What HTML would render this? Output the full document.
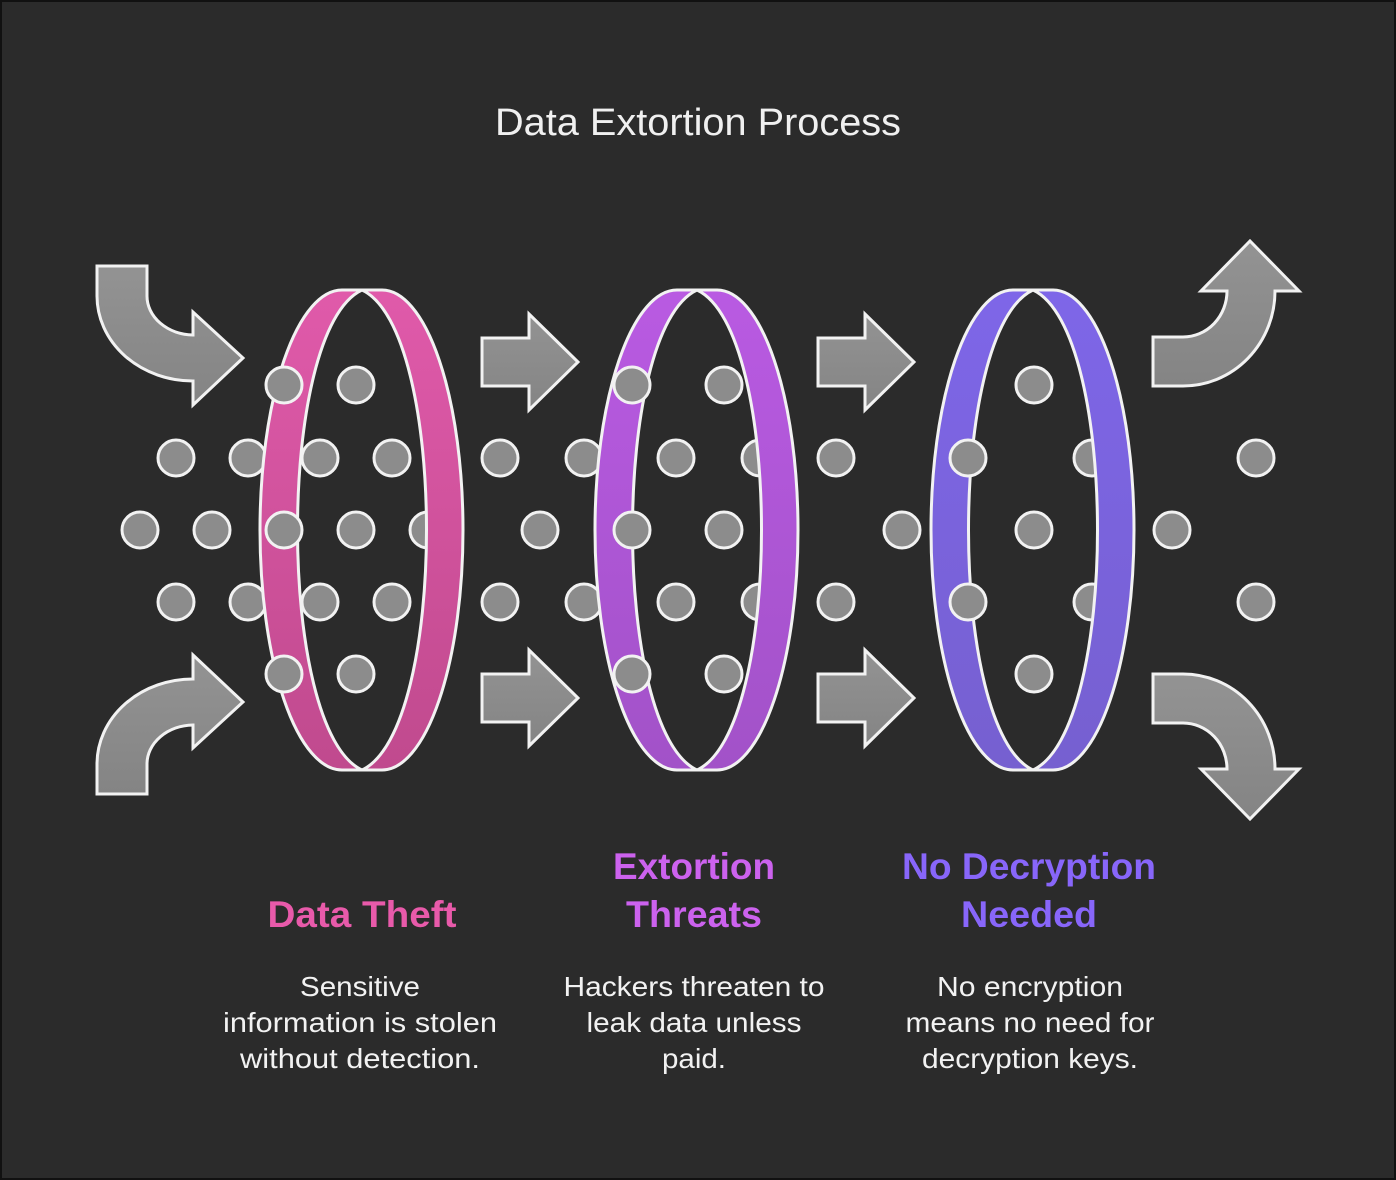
<!DOCTYPE html>
<html><head><meta charset="utf-8"><style>
html,body{margin:0;padding:0;background:#2b2b2b;}
svg{display:block}
</style></head><body>
<svg width="1396" height="1180" viewBox="0 0 1396 1180" xmlns="http://www.w3.org/2000/svg" font-family="Liberation Sans, sans-serif">
<defs>
<linearGradient id="g1" x1="0" y1="0" x2="0" y2="1"><stop offset="0" stop-color="#e05aaa"/><stop offset="1" stop-color="#c04a8e"/></linearGradient>
<linearGradient id="g2" x1="0" y1="0" x2="0" y2="1"><stop offset="0" stop-color="#b95ae2"/><stop offset="1" stop-color="#a252c8"/></linearGradient>
<linearGradient id="g3" x1="0" y1="0" x2="0" y2="1"><stop offset="0" stop-color="#7e66e8"/><stop offset="1" stop-color="#7660d0"/></linearGradient>
<linearGradient id="ga" x1="0" y1="0" x2="0" y2="1"><stop offset="0" stop-color="#939393"/><stop offset="1" stop-color="#848484"/></linearGradient>
</defs>
<rect x="1" y="1" width="1394" height="1178" fill="#2b2b2b" stroke="#111" stroke-width="2"/>
<text x="698" y="135" text-anchor="middle" font-size="38" fill="#f0f0f0" textLength="406" lengthAdjust="spacingAndGlyphs">Data Extortion Process</text>

<g fill="url(#ga)" stroke="#f2f2f2" stroke-width="3" stroke-linejoin="miter">
<path d="M97,266 L147,266 L147,296 A47,39 0 0 0 193,335 L193,312 L243,358 L193,405 L193,381 A96,85 0 0 1 97,296 Z"/>
<path d="M97,794 L147,794 L147,764 A47,39 0 0 1 193,725 L193,748 L243,702 L193,655 L193,679 A96,85 0 0 0 97,764 Z"/>
<path d="M1153,386 L1153,337 L1183,337 A44,46 0 0 0 1227,291 L1201,291 L1250,241 L1299,291 L1275,291 A92,95 0 0 1 1183,386 Z"/>
<path d="M1153,674 L1153,723 L1183,723 A44,46 0 0 1 1227,769 L1201,769 L1250,819 L1299,769 L1275,769 A92,95 0 0 0 1183,674 Z"/>
<path d="M482,338 L529,338 L529,314 L578,362 L529,410 L529,386 L482,386 Z"/>
<path d="M482,674 L529,674 L529,650 L578,698 L529,746 L529,722 L482,722 Z"/>
<path d="M818,338 L865,338 L865,314 L914,362 L865,410 L865,386 L818,386 Z"/>
<path d="M818,674 L865,674 L865,650 L914,698 L865,746 L865,722 L818,722 Z"/>
</g>

<g fill="#8c8c8c" stroke="#f2f2f2" stroke-width="3">
<circle cx="176" cy="458" r="18"/><circle cx="248" cy="458" r="18"/>
<circle cx="140" cy="530" r="18"/><circle cx="212" cy="530" r="18"/><circle cx="428" cy="530" r="18"/>
<circle cx="176" cy="602" r="18"/><circle cx="248" cy="602" r="18"/>
<circle cx="500" cy="458" r="18"/><circle cx="584" cy="458" r="18"/><circle cx="760" cy="458" r="18"/>
<circle cx="540" cy="530" r="18"/>
<circle cx="500" cy="602" r="18"/><circle cx="584" cy="602" r="18"/><circle cx="760" cy="602" r="18"/>
<circle cx="836" cy="458" r="18"/><circle cx="836" cy="602" r="18"/>
<circle cx="902" cy="530" r="18"/><circle cx="1092" cy="458" r="18"/><circle cx="1092" cy="602" r="18"/>
<circle cx="1172" cy="530" r="18"/><circle cx="1256" cy="458" r="18"/><circle cx="1256" cy="602" r="18"/>
</g>

<g stroke="#f2f2f2" stroke-width="3" stroke-linejoin="round">
<g transform="translate(362,0)" fill="url(#g1)">
<path d="M0,290 L-20,290 A82,240 0 0 0 -20,770 L0,770 C-86,730 -86,330 0,290 Z"/>
<path d="M0,290 L20,290 A81,240 0 0 1 20,770 L0,770 C86,730 86,330 0,290 Z"/>
</g>
<g transform="translate(697,0)" fill="url(#g2)">
<path d="M0,290 L-20,290 A82,240 0 0 0 -20,770 L0,770 C-86,730 -86,330 0,290 Z"/>
<path d="M0,290 L20,290 A81,240 0 0 1 20,770 L0,770 C86,730 86,330 0,290 Z"/>
</g>
<g transform="translate(1033,0)" fill="url(#g3)">
<path d="M0,290 L-20,290 A82,240 0 0 0 -20,770 L0,770 C-86,730 -86,330 0,290 Z"/>
<path d="M0,290 L20,290 A81,240 0 0 1 20,770 L0,770 C86,730 86,330 0,290 Z"/>
</g>
</g>

<g fill="#8c8c8c" stroke="#f2f2f2" stroke-width="3">
<circle cx="284" cy="385" r="18"/><circle cx="356" cy="385" r="18"/>
<circle cx="320" cy="458" r="18"/><circle cx="392" cy="458" r="18"/>
<circle cx="284" cy="530" r="18"/><circle cx="356" cy="530" r="18"/>
<circle cx="320" cy="602" r="18"/><circle cx="392" cy="602" r="18"/>
<circle cx="284" cy="674" r="18"/><circle cx="356" cy="674" r="18"/>
<circle cx="632" cy="385" r="18"/><circle cx="724" cy="385" r="18"/>
<circle cx="676" cy="458" r="18"/>
<circle cx="632" cy="530" r="18"/><circle cx="724" cy="530" r="18"/>
<circle cx="676" cy="602" r="18"/>
<circle cx="632" cy="674" r="18"/><circle cx="724" cy="674" r="18"/>
<circle cx="1034" cy="385" r="18"/>
<circle cx="968" cy="458" r="18"/>
<circle cx="1034" cy="530" r="18"/>
<circle cx="968" cy="602" r="18"/>
<circle cx="1034" cy="674" r="18"/>
</g>

<g font-weight="bold" font-size="37" text-anchor="middle" lengthAdjust="spacingAndGlyphs">
<text x="362" y="927" fill="#e85aaa" textLength="189" lengthAdjust="spacingAndGlyphs">Data Theft</text>
<text x="694" y="879" fill="#cc62ee" textLength="162" lengthAdjust="spacingAndGlyphs">Extortion</text>
<text x="694" y="927" fill="#cc62ee" textLength="136" lengthAdjust="spacingAndGlyphs">Threats</text>
<text x="1029" y="879" fill="#8866fa" textLength="254" lengthAdjust="spacingAndGlyphs">No Decryption</text>
<text x="1029" y="927" fill="#8866fa" textLength="136" lengthAdjust="spacingAndGlyphs">Needed</text>
</g>
<g font-size="28" text-anchor="middle" fill="#f2f2f2">
<text x="360" y="996" textLength="120" lengthAdjust="spacingAndGlyphs">Sensitive</text>
<text x="360" y="1032" textLength="274" lengthAdjust="spacingAndGlyphs">information is stolen</text>
<text x="360" y="1068" textLength="240" lengthAdjust="spacingAndGlyphs">without detection.</text>
<text x="694" y="996" textLength="261" lengthAdjust="spacingAndGlyphs">Hackers threaten to</text>
<text x="694" y="1032" textLength="215" lengthAdjust="spacingAndGlyphs">leak data unless</text>
<text x="694" y="1068" textLength="64" lengthAdjust="spacingAndGlyphs">paid.</text>
<text x="1030" y="996" textLength="186" lengthAdjust="spacingAndGlyphs">No encryption</text>
<text x="1030" y="1032" textLength="249" lengthAdjust="spacingAndGlyphs">means no need for</text>
<text x="1030" y="1068" textLength="216" lengthAdjust="spacingAndGlyphs">decryption keys.</text>
</g>
</svg>
</body></html>
